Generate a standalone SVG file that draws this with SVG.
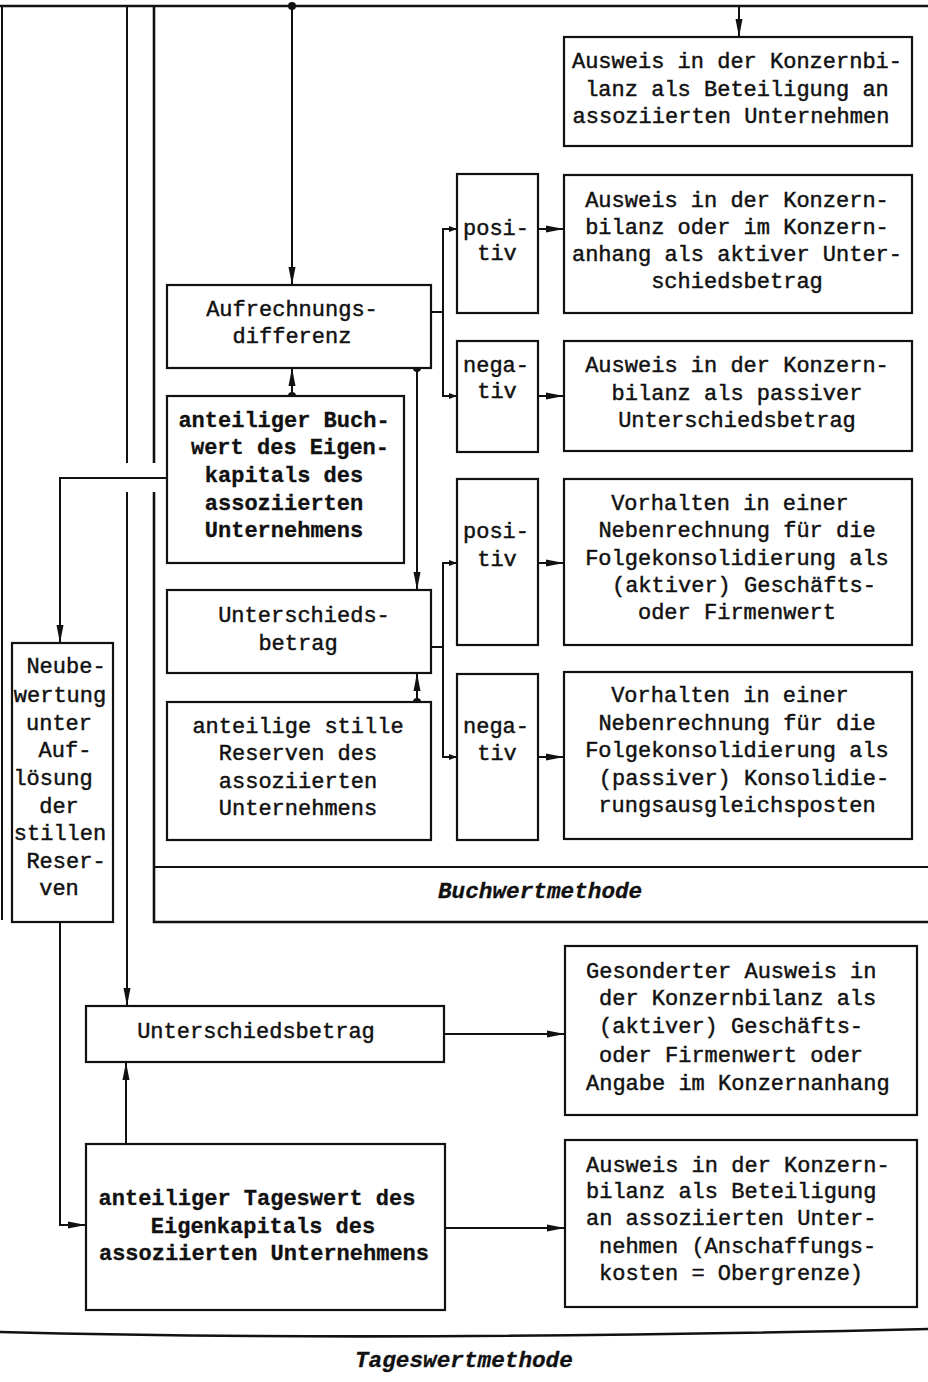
<svg xmlns="http://www.w3.org/2000/svg" width="928" height="1382" viewBox="0 0 928 1382">
  <style>
    .box { fill: #fff; stroke: #111; stroke-width: 2.2; }
    .ln { fill: none; stroke: #111; stroke-width: 2; }
    .frame { fill: none; stroke: #111; stroke-width: 2.6; }
    .dot { fill: #111; }
    text { font-family: "Liberation Mono", "DejaVu Sans Mono", monospace; font-size: 22px; fill: #111; stroke: #111; stroke-width: 0.45; }
    .c { text-anchor: middle; }
    .b { font-weight: bold; stroke-width: 0.3; }
    .cap { font-weight: bold; font-style: italic; stroke-width: 0.3; font-size: 22.7px; }
  </style>
  <defs>
    <marker id="arr" viewBox="0 0 18 8" refX="18" refY="4" markerWidth="18" markerHeight="8" markerUnits="userSpaceOnUse" orient="auto">
      <path d="M0,0.5 L18,4 L0,7.5 z" fill="#111"/>
    </marker>
    <marker id="arrS" viewBox="0 0 8 6" refX="8" refY="3" markerWidth="8" markerHeight="6" markerUnits="userSpaceOnUse" orient="auto">
      <path d="M0,0 L8,3 L0,6 z" fill="#111"/>
    </marker>
  </defs>

  <!-- frame lines and section bands -->
  <g id="frame">
    <path class="frame" d="M0,6 H928"/>
    <path class="ln" d="M2,6 V920"/>
    <path class="frame" d="M154,6 V463 M154,492 V922 H928"/>
    <path class="ln" d="M154,867 H928"/>
    <path class="frame" d="M0,1332 Q380,1342 928,1329"/>
    <text class="cap" x="438" y="898">Buchwertmethode</text>
    <text class="cap" x="355" y="1367">Tageswertmethode</text>
  </g>

  <!-- connectors -->
  <g id="connectors">
    <path class="ln" d="M127,6 V463 M127,492 V1006" marker-end="url(#arr)"/>
    <path class="ln" d="M292,6 V285" marker-end="url(#arr)"/>
    <circle class="dot" cx="292" cy="6" r="4"/>
    <path class="ln" d="M739,6 V37" marker-end="url(#arr)"/>

    <!-- Aufrechnungsdifferenz split -->
    <path class="ln" d="M431,312 H443"/>
    <path class="ln" d="M443,312 V229 H457" marker-end="url(#arrS)"/>
    <path class="ln" d="M443,312 V396 H457" marker-end="url(#arrS)"/>
    <path class="ln" d="M538,229 H564" marker-end="url(#arr)"/>
    <path class="ln" d="M538,396 H564" marker-end="url(#arr)"/>

    <!-- Unterschiedsbetrag split -->
    <path class="ln" d="M431,647 H443"/>
    <path class="ln" d="M443,647 V563 H457" marker-end="url(#arrS)"/>
    <path class="ln" d="M443,647 V757 H457" marker-end="url(#arrS)"/>
    <path class="ln" d="M538,563 H564" marker-end="url(#arr)"/>
    <path class="ln" d="M538,757 H564" marker-end="url(#arr)"/>

    <!-- inner links of the book value method -->
    <path class="ln" d="M292,396 V368" marker-end="url(#arr)"/>
    <circle class="dot" cx="292" cy="396" r="4"/>
    <path class="ln" d="M417,368 V590" marker-end="url(#arr)"/>
    <circle class="dot" cx="417" cy="368" r="4"/>
    <path class="ln" d="M417,702 V673" marker-end="url(#arr)"/>
    <circle class="dot" cx="417" cy="702" r="4"/>

    <!-- revaluation path -->
    <path class="ln" d="M167,478 H60 V643" marker-end="url(#arr)"/>
    <path class="ln" d="M60,922 V1225 H86" marker-end="url(#arr)"/>

    <!-- current value method -->
    <path class="ln" d="M126,1144 V1062" marker-end="url(#arr)"/>
    <path class="ln" d="M444,1034 H565" marker-end="url(#arr)"/>
    <path class="ln" d="M445,1228 H565" marker-end="url(#arr)"/>
  </g>

  <g id="ausweis-beteiligung">
    <rect class="box" x="564" y="37" width="348" height="109"/>
    <text class="c" x="737" y="68">Ausweis in der Konzernbi-</text>
    <text class="c" x="737" y="95.5">lanz als Beteiligung an</text>
    <text class="c" x="731" y="123">assoziierten Unternehmen</text>
  </g>

  <g id="positiv-1">
    <rect class="box" x="457" y="174" width="81" height="139"/>
    <text class="c" x="496" y="235">posi-</text>
    <text class="c" x="497" y="260">tiv</text>
  </g>

  <g id="ausweis-aktiv">
    <rect class="box" x="564" y="175" width="348" height="138"/>
    <text class="c" x="737" y="207">Ausweis in der Konzern-</text>
    <text class="c" x="737" y="234">bilanz oder im Konzern-</text>
    <text class="c" x="737" y="261">anhang als aktiver Unter-</text>
    <text class="c" x="737" y="288">schiedsbetrag</text>
  </g>

  <g id="negativ-1">
    <rect class="box" x="457" y="341" width="81" height="111"/>
    <text class="c" x="496" y="372">nega-</text>
    <text class="c" x="497" y="398">tiv</text>
  </g>

  <g id="ausweis-passiv">
    <rect class="box" x="564" y="341" width="348" height="110"/>
    <text class="c" x="737" y="372">Ausweis in der Konzern-</text>
    <text class="c" x="737" y="399.5">bilanz als passiver</text>
    <text class="c" x="737" y="427">Unterschiedsbetrag</text>
  </g>

  <g id="positiv-2">
    <rect class="box" x="457" y="479" width="81" height="166"/>
    <text class="c" x="496" y="538">posi-</text>
    <text class="c" x="497" y="566">tiv</text>
  </g>

  <g id="vorhalten-aktiv">
    <rect class="box" x="564" y="479" width="348" height="166"/>
    <text class="c" x="730" y="510">Vorhalten in einer</text>
    <text class="c" x="737" y="537">Nebenrechnung für die</text>
    <text class="c" x="737" y="565">Folgekonsolidierung als</text>
    <text class="c" x="744" y="592">(aktiver) Geschäfts-</text>
    <text class="c" x="737" y="619">oder Firmenwert</text>
  </g>

  <g id="negativ-2">
    <rect class="box" x="457" y="674" width="81" height="166"/>
    <text class="c" x="496" y="733">nega-</text>
    <text class="c" x="497" y="760">tiv</text>
  </g>

  <g id="vorhalten-passiv">
    <rect class="box" x="564" y="672" width="348" height="167"/>
    <text class="c" x="730" y="702">Vorhalten in einer</text>
    <text class="c" x="737" y="730">Nebenrechnung für die</text>
    <text class="c" x="737" y="757">Folgekonsolidierung als</text>
    <text class="c" x="744" y="785">(passiver) Konsolidie-</text>
    <text class="c" x="737" y="812">rungsausgleichsposten</text>
  </g>

  <g id="aufrechnungsdifferenz">
    <rect class="box" x="167" y="285" width="264" height="83"/>
    <text class="c" x="292" y="316">Aufrechnungs-</text>
    <text class="c" x="292" y="343">differenz</text>
  </g>

  <g id="buchwert-eigenkapital">
    <rect class="box" x="167" y="396" width="237" height="167"/>
    <text class="c b" x="284" y="427">anteiliger Buch-</text>
    <text class="c b" x="290" y="454">wert des Eigen-</text>
    <text class="c b" x="284" y="482">kapitals des</text>
    <text class="c b" x="284" y="510">assoziierten</text>
    <text class="c b" x="284" y="537">Unternehmens</text>
  </g>

  <g id="unterschiedsbetrag-buchwert">
    <rect class="box" x="167" y="590" width="264" height="83"/>
    <text class="c" x="304" y="622">Unterschieds-</text>
    <text class="c" x="298" y="650">betrag</text>
  </g>

  <g id="stille-reserven">
    <rect class="box" x="167" y="702" width="264" height="138"/>
    <text class="c" x="298" y="733">anteilige stille</text>
    <text class="c" x="298" y="760">Reserven des</text>
    <text class="c" x="298" y="788">assoziierten</text>
    <text class="c" x="298" y="815">Unternehmens</text>
  </g>

  <g id="neubewertung">
    <rect class="box" x="12" y="643" width="101" height="279"/>
    <text class="c" x="66" y="673">Neube-</text>
    <text class="c" x="60" y="702">wertung</text>
    <text class="c" x="59" y="730">unter</text>
    <text class="c" x="65" y="757">Auf-</text>
    <text class="c" x="53" y="785">lösung</text>
    <text class="c" x="59" y="813">der</text>
    <text class="c" x="60" y="840">stillen</text>
    <text class="c" x="66" y="868">Reser-</text>
    <text class="c" x="59" y="895">ven</text>
  </g>

  <g id="unterschiedsbetrag-tageswert">
    <rect class="box" x="86" y="1006" width="358" height="56"/>
    <text class="c" x="256" y="1038">Unterschiedsbetrag</text>
  </g>

  <g id="tageswert-eigenkapital">
    <rect class="box" x="86" y="1144" width="359" height="166"/>
    <text class="c b" x="257" y="1205">anteiliger Tageswert des</text>
    <text class="c b" x="263" y="1233">Eigenkapitals des</text>
    <text class="c b" x="264" y="1260">assoziierten Unternehmens</text>
  </g>

  <g id="gesonderter-ausweis">
    <rect class="box" x="565" y="946" width="352" height="169"/>
    <text x="586" y="978">Gesonderter Ausweis in</text>
    <text x="599" y="1005">der Konzernbilanz als</text>
    <text x="599" y="1033">(aktiver) Geschäfts-</text>
    <text x="599" y="1062">oder Firmenwert oder</text>
    <text x="586" y="1090">Angabe im Konzernanhang</text>
  </g>

  <g id="ausweis-anschaffungskosten">
    <rect class="box" x="565" y="1140" width="352" height="167"/>
    <text x="586" y="1172">Ausweis in der Konzern-</text>
    <text x="586" y="1198">bilanz als Beteiligung</text>
    <text x="586" y="1225">an assoziierten Unter-</text>
    <text x="599" y="1253">nehmen (Anschaffungs-</text>
    <text x="599" y="1280">kosten = Obergrenze)</text>
  </g>
</svg>
